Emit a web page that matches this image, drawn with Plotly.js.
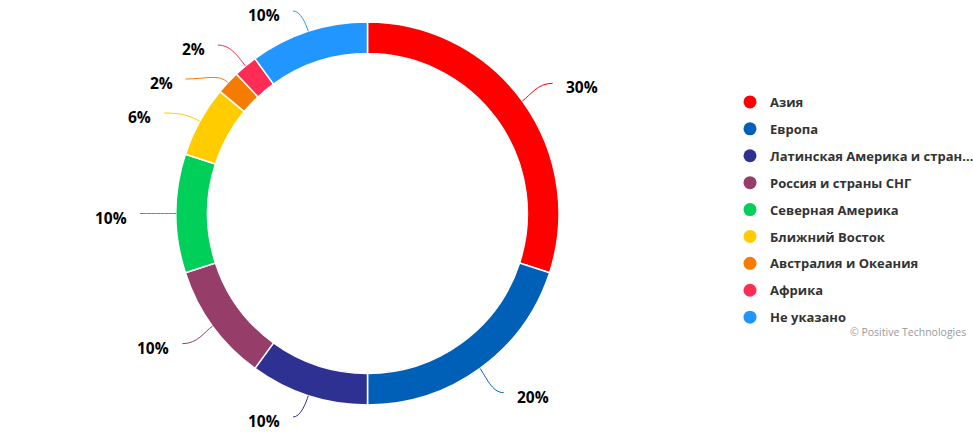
<!DOCTYPE html>
<html>
<head>
<meta charset="utf-8">
<script src="https://cdn.plot.ly/plotly-3.0.1.min.js"></script>
<style>html,body{margin:0;padding:0;background:#fff;}#chart{width:973px;height:433px;}</style>
</head>
<body>
<div id="chart"></div>
<script>
// ---- data ----
const categories = ['Азия', 'Европа', 'Латинская Америка и стран…', 'Россия и страны СНГ',
  'Северная Америка', 'Ближний Восток', 'Австралия и Океания', 'Африка', 'Не указано'];
const values = [30, 20, 10, 10, 10, 6, 2, 2, 10];
const colors = ['#FF0000', '#0060B8', '#2E3192', '#963D6A', '#00D05A', '#FFCC00', '#F57C00', '#FF2D55', '#2196FF'];
const sourceText = '© Positive Technologies';

// ---- layout constants ----
const W = 973, H = 433;
const CX = 367.5, CY = 213.5, R = 191.5;
const RL = R + 30, TOP = 11, BOTTOM = 417, GAP = 34;
const FONT = 'Open Sans, DejaVu Sans, sans-serif';

const px = x => x / W;
const py = y => 1 - y / H;

// ---- compute label positions from data ----
const total = values.reduce((a, b) => a + b, 0);
let cum = 0;
const items = values.map((v, i) => {
  const mid = (cum + v / 2) / total * 2 * Math.PI;
  cum += v;
  const s = Math.sin(mid), c = Math.cos(mid);
  return { i, mid, s, c, left: s < 0, nx: CX + RL * s, ny: CY - RL * c };
});
['L', 'R'].forEach(side => {
  const group = items.filter(it => (side === 'L') === it.left).sort((a, b) => a.ny - b.ny);
  let prev = -Infinity;
  group.forEach(it => { it.y = Math.max(it.ny, prev + GAP, TOP); prev = it.y; });
  let next = Infinity;
  for (let k = group.length - 1; k >= 0; k--) {
    const it = group[k];
    it.y = Math.min(it.y, next - GAP, BOTTOM);
    next = it.y;
  }
  group.forEach(it => {
    const clamped = (it.y === TOP || it.y === BOTTOM);
    const dir = it.left ? -1 : 1;
    if (clamped) it.x = it.nx;
    else it.x = CX + dir * Math.sqrt(Math.max(0, RL * RL - (it.y - CY) * (it.y - CY)));
  });
});

const annotations = [];
const shapes = [];
items.forEach(it => {
  const dir = it.left ? -1 : 1;
  annotations.push({
    xref: 'paper', yref: 'paper', showarrow: false,
    x: px(it.x + dir * 17), y: py(it.y + 4),
    xanchor: it.left ? 'right' : 'left', yanchor: 'middle',
    text: values[it.i] + '%',
    font: { family: FONT, size: 15.5, color: '#000', weight: 'bold' }
  });
  const sx = it.x + dir * 6, sy = it.y;
  const ex = CX + R * it.s, ey = CY - R * it.c;
  const dist = Math.hypot(ex - sx, ey - sy);
  const c1x = sx - dir * 0.5 * Math.abs(sx - ex), c1y = sy;
  const c2x = ex + it.s * 0.3 * dist, c2y = ey - it.c * 0.3 * dist;
  shapes.push({
    type: 'path', xref: 'paper', yref: 'paper',
    path: `M ${px(sx)},${py(sy)} C ${px(c1x)},${py(c1y)} ${px(c2x)},${py(c2y)} ${px(ex)},${py(ey)}`,
    line: { color: colors[it.i], width: 1 }
  });
});
annotations.push({
  xref: 'paper', yref: 'paper', showarrow: false,
  x: px(968), y: py(332), xanchor: 'right', yanchor: 'middle',
  text: sourceText, font: { family: FONT, size: 10.5, color: '#999' }
});

// ---- traces ----
const pie = {
  type: 'pie', labels: categories, values: values, sort: false,
  direction: 'clockwise', rotation: 0, hole: 0.835,
  marker: { colors: colors, line: { color: '#fff', width: 1.5 } },
  textinfo: 'none', hoverinfo: 'label+percent', showlegend: false,
  domain: { x: [px(CX - R), px(CX + R)], y: [py(CY + R), py(CY - R)] }
};
const legendTraces = categories.map((name, i) => ({
  type: 'scatter', mode: 'markers', x: [null], y: [null], name: name,
  legendgroup: 'g' + i,
  marker: { color: colors[i], size: 13, symbol: 'circle' },
  hoverinfo: 'skip', showlegend: true
}));

const layout = {
  width: W, height: H,
  margin: { l: 0, r: 0, t: 0, b: 0, autoexpand: false },
  paper_bgcolor: '#fff', plot_bgcolor: '#fff',
  xaxis: { visible: false, domain: [0.99, 1] },
  yaxis: { visible: false, domain: [0.99, 1] },
  showlegend: true,
  legend: {
    x: px(730), y: py(87), xanchor: 'left', yanchor: 'top',
    traceorder: 'grouped', tracegroupgap: 7,
    font: { family: FONT, size: 13, color: '#333', weight: 'bold' },
    bgcolor: 'rgba(0,0,0,0)'
  },
  annotations: annotations,
  shapes: shapes
};

Plotly.newPlot('chart', [pie].concat(legendTraces), layout, { displayModeBar: false, staticPlot: true });
</script>
</body>
</html>
